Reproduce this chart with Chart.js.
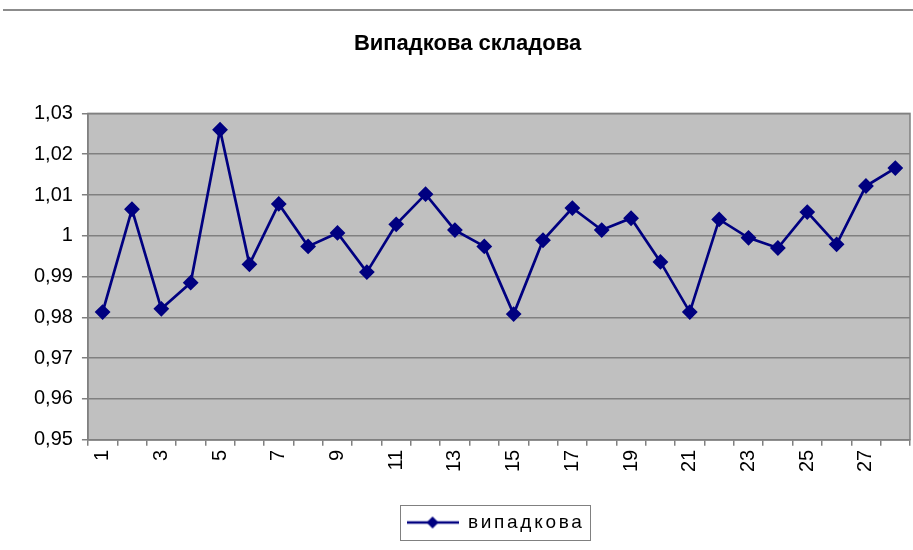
<!DOCTYPE html>
<html>
<head>
<meta charset="utf-8">
<script src="https://cdn.jsdelivr.net/npm/chart.js@4/dist/chart.umd.min.js"></script>
<style>
  html, body { margin: 0; padding: 0; background: #fff; }
  #wrap { width: 913px; height: 550px; }
</style>
</head>
<body>
<div id="wrap"><canvas id="myChart" width="913" height="550"></canvas></div>
<script>
// categories 1..28
const categories = ['1','2','3','4','5','6','7','8','9','10','11','12','13','14',
                    '15','16','17','18','19','20','21','22','23','24','25','26','27','28'];
// values
const randomPart = [0.9813, 1.0065, 0.9821, 0.9885, 1.0260, 0.9930, 1.0078, 0.9974, 1.0007, 0.9911,
                    1.0028, 1.0102, 1.0014, 0.9974, 0.9808, 0.9989, 1.0068, 1.0014, 1.0043, 0.9936,
                    0.9813, 1.0040, 0.9995, 0.9970, 1.0058, 0.9979, 1.0122, 1.0166];
const seriesName = 'випадкова';
const chartTitle = 'Випадкова складова';
const yMin = 0.95, yMax = 1.03, yStep = 0.01;

const navy = '#000080';
const gridGray = '#808080';
const fontFam = 'Liberation Sans, Arial, sans-serif';
const legendShift = 28;

// legend symbol: line with a diamond
function legendSymbol() {
    const c = document.createElement('canvas');
    c.width = 52; c.height = 14;
    const g = c.getContext('2d');
    g.strokeStyle = navy;
    g.lineWidth = 2.5;
    g.beginPath(); g.moveTo(0, 7); g.lineTo(52, 7); g.stroke();
    g.fillStyle = navy;
    g.beginPath(); g.moveTo(26, 1); g.lineTo(32, 7); g.lineTo(26, 13); g.lineTo(20, 7); g.closePath(); g.fill();
    return c;
}

// wrap legend so its text gets letter spacing
function spaced(fn, L) {
    return function () {
        const c = L.ctx;
        const old = c.letterSpacing;
        c.letterSpacing = '2.7px';
        const r = fn.apply(L, arguments);
        c.letterSpacing = old;
        return r;
    };
}

const decor = {
    id: 'decor',
    afterInit(chart) {
        const L = chart.legend;
        if (!L) return;
        L.fit = spaced(L.fit, L);
        L.draw = spaced(L.draw, L);
    },
    afterUpdate(chart) {
        // nudge legend to the right like the original
        const L = chart.legend;
        L.left += legendShift;
        L.right += legendShift;
        L.legendHitBoxes.forEach(h => { h.left += legendShift; });
    },
    beforeDraw(chart) {
        const {ctx, chartArea: a} = chart;
        ctx.save();
        ctx.fillStyle = '#fff';
        ctx.fillRect(0, 0, chart.width, chart.height);
        ctx.strokeStyle = '#8c8c8c';
        ctx.lineWidth = 2;
        ctx.beginPath(); ctx.moveTo(3, 10); ctx.lineTo(chart.width, 10); ctx.stroke();
        ctx.fillStyle = '#c0c0c0';
        ctx.fillRect(a.left, a.top, a.right - a.left, a.bottom - a.top);
        ctx.restore();
    },
    afterDatasetsDraw(chart) {
        const {ctx, chartArea: a} = chart;
        ctx.save();
        ctx.strokeStyle = gridGray;
        ctx.lineWidth = 1.5;
        ctx.strokeRect(a.left, a.top, a.right - a.left, a.bottom - a.top);
        ctx.restore();
    },
    afterDraw(chart) {
        const boxes = chart.legend.legendHitBoxes;
        if (!boxes || !boxes.length) return;
        const b = boxes[0];
        const ctx = chart.ctx;
        ctx.save();
        ctx.strokeStyle = '#808080';
        ctx.lineWidth = 1;
        ctx.strokeRect(Math.round(b.left - 7) + 0.5, Math.round(b.top - 8) + 0.5, Math.round(b.width + 12), Math.round(b.height + 16));
        ctx.restore();
    }
};

function fmt(v) {
    return String(Number(v.toFixed(2))).replace('.', ',');
}

function graficar(ctx) {
    return new Chart(ctx, {
        type: 'line',
        data: {
            labels: categories,
            datasets: [{
                label: seriesName,
                data: randomPart,
                borderColor: navy,
                backgroundColor: navy,
                borderWidth: 2.7,
                pointStyle: 'rectRot',
                pointRadius: 6,
                pointHoverRadius: 6,
                pointBackgroundColor: navy,
                pointBorderColor: navy,
                tension: 0
            }]
        },
        options: {
            responsive: false,
            animation: false,
            events: [],
            layout: { autoPadding: false, padding: { left: 25, right: 3, top: 31, bottom: 8 } },
            plugins: {
                title: {
                    display: true,
                    text: chartTitle,
                    color: '#000',
                    font: { family: fontFam, size: 22, weight: 'bold' },
                    padding: { top: 0, bottom: 56 }
                },
                legend: {
                    position: 'bottom',
                    labels: {
                        color: '#000',
                        font: { family: fontFam, size: 19 },
                        usePointStyle: true,
                        pointStyle: legendSymbol(),
                        pointStyleWidth: 52,
                        padding: 37
                    }
                },
                tooltip: { enabled: false }
            },
            scales: {
                x: {
                    offset: true,
                    afterFit: s => { s.paddingLeft = 0; s.paddingRight = 0; },
                    grid: { offset: true, drawOnChartArea: false, drawTicks: true, tickLength: 6, color: gridGray, lineWidth: 1.5 },
                    border: { color: gridGray, width: 1.5 },
                    ticks: {
                        autoSkip: false,
                        maxRotation: 90,
                        minRotation: 90,
                        color: '#000',
                        padding: 4,
                        font: { family: fontFam, size: 20 },
                        callback: (v, i) => (i % 2 === 0 ? categories[i] : '')
                    }
                },
                y: {
                    min: yMin,
                    max: yMax,
                    grid: { color: gridGray, lineWidth: 1.5, tickLength: 6 },
                    border: { color: gridGray, width: 1.5 },
                    ticks: {
                        stepSize: yStep,
                        color: '#000',
                        padding: 9,
                        font: { family: fontFam, size: 20 },
                        callback: v => fmt(v)
                    }
                }
            }
        },
        plugins: [decor]
    });
}

function getChars() {
    const ctx = document.getElementById('myChart').getContext('2d');
    graficar(ctx);
}
getChars();
</script>
</body>
</html>
